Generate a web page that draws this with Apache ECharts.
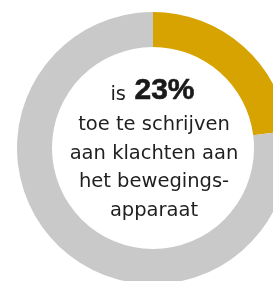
<!DOCTYPE html>
<html>
<head>
<meta charset="utf-8">
<script src="https://cdn.jsdelivr.net/npm/echarts@6/dist/echarts.min.js"></script>
<style>
  html, body { margin: 0; padding: 0; background: #fff; }
  #main { width: 273px; height: 281px; }
</style>
</head>
<body>
<div id="main"></div>
<script>
// data
var categories = ['bewegingsapparaat', 'overig'];
var values = [23, 77];
var prefix = 'is';
var bigValue = '23%';
var lines = ['toe te schrijven', 'aan klachten aan', 'het bewegings-', 'apparaat'];

var colors = ['#D6A300', '#C9C9C9'];

var dom = document.getElementById('main');
var myChart = echarts.init(dom);

var pieData = categories.map(function (c, i) {
  return { name: c, value: values[i], itemStyle: { color: colors[i] } };
});

// tekst in het midden
var textEls = [];
textEls.push({
  type: 'text', x: 126, y: 95,
  style: { text: prefix, font: '19.5px "DejaVu Sans"', fill: '#1f1f1f', textAlign: 'right', textVerticalAlign: 'middle' }
});
textEls.push({
  type: 'text', x: 134.5, y: 91,
  style: {
    text: bigValue, font: 'bold 30px "Liberation Sans"', fill: '#1a1a1a',
    stroke: '#1a1a1a', lineWidth: 0.6,
    textAlign: 'left', textVerticalAlign: 'middle'
  }
});
lines.forEach(function (t, i) {
  textEls.push({
    type: 'text', x: 154, y: 125 + i * 28.5,
    style: { text: t, font: '19.5px "DejaVu Sans"', fill: '#1f1f1f', textAlign: 'center', textVerticalAlign: 'middle' }
  });
});

var option = {
  animation: false,
  series: [
    {
      type: 'pie',
      radius: [101, 136],
      center: [153, 148],
      startAngle: 90,
      clockwise: true,
      silent: true,
      label: { show: false },
      labelLine: { show: false },
      data: pieData
    }
  ],
  graphic: textEls
};
myChart.setOption(option, true);
</script>
</body>
</html>
